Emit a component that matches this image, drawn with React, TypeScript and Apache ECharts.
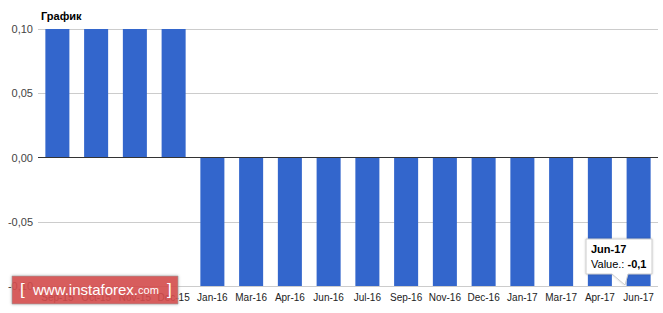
import React, { useEffect, useRef } from "react";
import * as echarts from "echarts";

const categories = ["Sep-15", "Oct-15", "Nov-15", "Dec-15", "Jan-16", "Mar-16", "Apr-16", "Jun-16", "Jul-16", "Sep-16", "Nov-16", "Dec-16", "Jan-17", "Mar-17", "Apr-17", "Jun-17"];
const values = [0.1, 0.1, 0.1, 0.1, -0.1, -0.1, -0.1, -0.1, -0.1, -0.1, -0.1, -0.1, -0.1, -0.1, -0.1, -0.1];
const title = "График";

const fmt = (v: number) => {
  if (Math.abs(v) < 1e-9) return "0,00";
  return v.toFixed(2).replace(".", ",");
};

export default function App() {
  const ref = useRef<HTMLDivElement>(null);
  useEffect(() => {
    const chart = echarts.init(ref.current!, null, { renderer: "svg" });
    const font = "'Liberation Sans', Arial, sans-serif";
    chart.setOption({
      animation: false,
      title: {
        text: title,
        left: 36,
        top: 5,
        textStyle: { fontFamily: font, fontSize: 11, fontWeight: "bold", color: "#000" },
      },
      grid: { left: 38, right: 5, top: 29, bottom: 27, containLabel: false },
      xAxis: {
        type: "category",
        data: categories,
        axisLine: { show: false },
        axisTick: { show: false },
        axisLabel: { fontFamily: font, fontSize: 10, color: "#222", interval: 0, margin: 6 },
      },
      yAxis: {
        type: "value",
        min: -0.1,
        max: 0.1,
        interval: 0.05,
        axisLine: { show: false },
        axisTick: { show: false },
        splitLine: { lineStyle: { color: "#cccccc", width: 1 } },
        axisLabel: { fontFamily: font, fontSize: 11, color: "#444", margin: 5, formatter: fmt },
      },
      series: [
        {
          type: "bar",
          data: values,
          barWidth: "62%",
          itemStyle: { color: "#3366cc" },
          markLine: {
            silent: true,
            symbol: "none",
            label: { show: false },
            lineStyle: { color: "#333", width: 1, type: "solid" },
            data: [{ yAxis: 0 }],
          },
        },
      ],
      graphic: [
        {
          type: "polygon",
          shape: { points: [[586, 239], [652, 239], [652, 274], [628, 274], [625, 285], [612, 274], [586, 274]] },
          style: { fill: "#fff", stroke: "#cccccc", lineWidth: 1, shadowBlur: 2, shadowColor: "rgba(0,0,0,0.2)" },
          z: 100,
        },
        {
          type: "text",
          x: 591,
          y: 243,
          style: { text: "Jun-17", font: `bold 11px ${font}`, fill: "#000" },
          z: 101,
        },
        {
          type: "text",
          x: 591,
          y: 258,
          style: {
            text: "{a|Value.: }{b|-0,1}",
            rich: {
              a: { fontFamily: font, fontSize: 11, fill: "#000" },
              b: { fontFamily: font, fontSize: 11, fontWeight: "bold", fill: "#000" },
            },
          },
          z: 101,
        },
        {
          type: "rect",
          shape: { x: 12, y: 276, width: 166, height: 28 },
          style: { fill: "rgba(214,78,78,0.88)", stroke: "rgba(150,150,150,0.6)", lineWidth: 1, shadowBlur: 3, shadowColor: "rgba(0,0,0,0.3)" },
          z: 100,
        },
        {
          type: "text",
          x: 20,
          y: 281,
          style: { text: "[", font: `17px ${font}`, fill: "#fff" },
          z: 101,
        },
        {
          type: "text",
          x: 33,
          y: 282,
          style: {
            text: "{a|www.instaforex.}{b|com}",
            rich: {
              a: { fontFamily: font, fontSize: 15, fill: "#fff" },
              b: { fontFamily: font, fontSize: 11, fill: "#fff" },
            },
          },
          z: 101,
        },
        {
          type: "text",
          x: 167,
          y: 281,
          style: { text: "]", font: `17px ${font}`, fill: "#fff" },
          z: 101,
        },
      ],
    });
    return () => chart.dispose();
  }, []);
  return <div ref={ref} style={{ width: 663, height: 313, position: "absolute", left: 0, top: 0 }} />;
}
